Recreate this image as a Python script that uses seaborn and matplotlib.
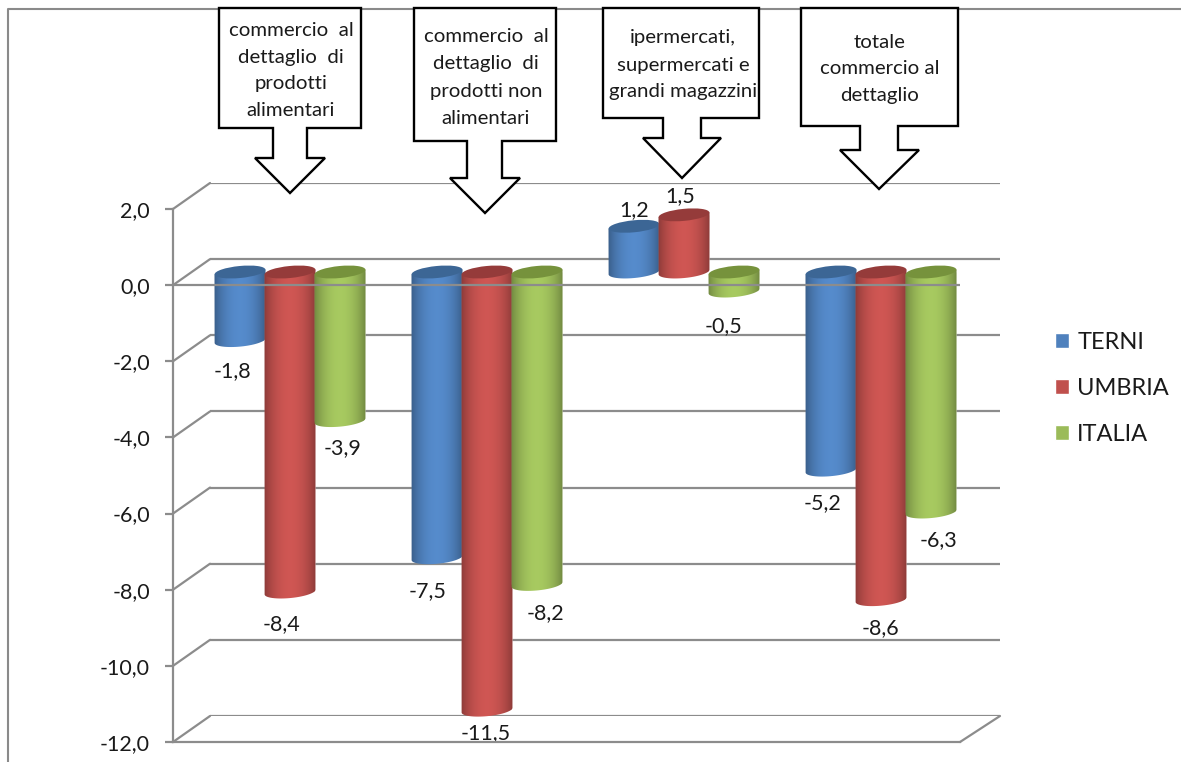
import numpy as np
import pandas as pd
import matplotlib
matplotlib.use("Agg")
import matplotlib.pyplot as plt
import seaborn as sns
from matplotlib.lines import Line2D
from matplotlib.patches import ConnectionPatch, Ellipse, PathPatch
from matplotlib.path import Path
from matplotlib.transforms import IdentityTransform, ScaledTranslation

# Variazioni percentuali per comparto e area
categories = [
    "commercio al dettaglio di prodotti alimentari",
    "commercio al dettaglio di prodotti non alimentari",
    "ipermercati, supermercati e grandi magazzini",
    "totale commercio al dettaglio",
]
areas = ["TERNI", "UMBRIA", "ITALIA"]
terni = [-1.8, -7.5, 1.2, -5.2]
umbria = [-8.4, -11.5, 1.5, -8.6]
italia = [-3.9, -8.2, -0.5, -6.3]
y_ticks = [2, 0, -2, -4, -6, -8, -10, -12]

# Righe di testo dei riquadri a freccia
callout_lines = [
    ["commercio  al", "dettaglio  di", "prodotti", "alimentari"],
    ["commercio  al", "dettaglio  di", "prodotti non", "alimentari"],
    ["ipermercati,", "supermercati e", "grandi magazzini"],
    ["totale", "commercio al", "dettaglio"],
]

W, H = 1181, 762
sns.set_style("white")
plt.rcParams["font.family"] = ["Lato", "DejaVu Sans"]

GRID = "#8c8c8c"
TEXT = "#1a1a1a"
palette = {"TERNI": "#4F81BD", "UMBRIA": "#C0504D", "ITALIA": "#9BBB59"}
cap_colors = {"TERNI": "#3C6695", "UMBRIA": "#953B3A", "ITALIA": "#76923C"}


def px_rect(x0, y0, x1, y1):
    """Axes rectangle from top-left pixel coordinates."""
    return [x0 / W, 1 - y1 / H, (x1 - x0) / W, (y1 - y0) / H]


def fx(x):
    return x / W


def fy(y):
    return 1 - y / H


fig = plt.figure(figsize=(W / 100, H / 100), dpi=100, facecolor="white")

# Chart frame, open on the right and at the bottom
fig.add_artist(Line2D([fx(8), fx(8), fx(W)], [fy(H), fy(8.5), fy(8.5)],
                      color="#8a8a8a", lw=1.5, zorder=0,
                      transform=fig.transFigure))

# Three planes of the pseudo-3D frame: back wall, bar plane, front edge
back = fig.add_axes(px_rect(210, 183, 1000, 716), zorder=1)
mid = fig.add_axes(px_rect(191.5, 195.8, 979.5, 729.2), zorder=2)
front = fig.add_axes(px_rect(173, 209, 960, 742), zorder=3)

for ax in (back, front):
    ax.set_xlim(0, 1)
    ax.set_ylim(-12, 2)
    ax.patch.set_visible(False)

# Back wall: gridlines only
back.set_xticks([])
back.set_yticks(y_ticks)
back.tick_params(left=False, labelleft=False)
back.grid(axis="y", color=GRID, lw=1.6)
for s in back.spines.values():
    s.set_visible(False)

# Oblique edges joining the front edge to the back wall
for v in y_ticks:
    back.add_artist(ConnectionPatch(
        xyA=(0, v), coordsA=front.get_yaxis_transform(),
        xyB=(0, v), coordsB=back.get_yaxis_transform(),
        color=GRID, lw=1.6))
back.add_artist(ConnectionPatch(
    xyA=(1, -12), coordsA=front.get_yaxis_transform(),
    xyB=(1, -12), coordsB=back.get_yaxis_transform(),
    color=GRID, lw=1.6))

# Front edge: value axis, bottom line, zero line over the bars
front.set_xticks([])
front.set_yticks(y_ticks)
front.set_yticklabels([f"{v:.1f}".replace(".", ",") for v in y_ticks],
                       fontsize=15.5, color=TEXT)
front.tick_params(axis="y", length=6, width=1.6, color=GRID, pad=10.5, left=True)
for name, s in front.spines.items():
    s.set_visible(name in ("left", "bottom"))
    s.set_color(GRID)
    s.set_linewidth(1.6)
front.axhline(0, color=GRID, lw=1.6)

# Cylinder bars
df = pd.DataFrame({
    "categoria": categories * 3,
    "area": np.repeat(areas, 4),
    "valore": terni + umbria + italia,
})
sns.barplot(data=df, x="categoria", y="valore", hue="area", hue_order=areas,
            order=categories, palette=palette, saturation=1, width=0.7614,
            gap=0, errorbar=None, ax=mid)
mid.set_xlim(-0.5, 3.5)
mid.set_ylim(-12, 2)
mid.autoscale(False)
mid.set_axis_off()

CAP_W, CAP_H, CAP_ANGLE = 51, 12, 5.5
RISE = CAP_W / 2 * np.sin(np.radians(CAP_ANGLE))
t = np.linspace(0, 1, 160)
shade = 0.66 + 0.42 * np.sin(np.pi * t) ** 0.7

for h, (area, container) in enumerate(zip(areas, mid.containers)):
    base = np.array(matplotlib.colors.to_rgb(palette[area]))
    gradient = np.ones((1, t.size, 4))
    gradient[0, :, :3] = np.clip(base[None, :] * shade[:, None], 0, 1)
    for bar in container:
        x0, x1 = bar.get_x(), bar.get_x() + bar.get_width()
        xc = (x0 + x1) / 2
        top = max(bar.get_y(), bar.get_y() + bar.get_height())
        low = min(bar.get_y(), bar.get_y() + bar.get_height())
        z = 3 + h

        # Outline of the visible side: straight top edge, rounded lower end
        (cx, top_px) = mid.transData.transform((xc, top))
        (_, low_px) = mid.transData.transform((xc, low))
        half = CAP_W / 2
        ang = np.radians(CAP_ANGLE)
        arc = np.linspace(0, -np.pi, 40)
        arc_x = half * np.cos(arc) * np.cos(ang) - CAP_H / 2 * np.sin(arc) * np.sin(ang)
        arc_y = half * np.cos(arc) * np.sin(ang) + CAP_H / 2 * np.sin(arc) * np.cos(ang)
        outline = np.vstack([
            [cx - half, top_px - RISE],
            [cx + half, top_px + RISE],
            np.column_stack([cx + arc_x, low_px + arc_y]),
            [cx - half, top_px - RISE],
        ])
        side = Path(outline)
        bar.set_clip_path(side, IdentityTransform())
        bar.set_zorder(z)
        im = mid.imshow(gradient, extent=(x0 - 0.01, x1 + 0.01, low - 0.4, top + 0.2),
                        aspect="auto", interpolation="bilinear", zorder=z + 0.1)
        im.set_clip_path(side, IdentityTransform())

        mid.add_patch(Ellipse((0, 0), CAP_W, CAP_H, angle=CAP_ANGLE,
                              facecolor=cap_colors[area], edgecolor="none",
                              transform=ScaledTranslation(xc, top, mid.transData),
                              zorder=z + 0.2, clip_on=False))

# Value labels, nudged off the bar ends in pixels
label_nudges = {
    "TERNI": [(-8, -31), (-9, -33), (0, 16), (-9, -33)],
    "UMBRIA": [(-8, -32), (-1, -23), (-4, 19), (-1, -28)],
    "ITALIA": [(3, -28), (8, -29), (-10, -35), (8, -28)],
}
for area, container in zip(areas, mid.containers):
    for bar, nudge in zip(container, label_nudges[area]):
        value = bar.get_y() + bar.get_height()
        mid.annotate(f"{value:.1f}".replace(".", ","),
                     xy=(bar.get_x() + bar.get_width() / 2, value),
                     xytext=nudge, textcoords="offset pixels",
                     ha="center", va="center", fontsize=15.5, color=TEXT,
                     zorder=10, annotation_clip=False)

sns.move_legend(mid, loc="center left", bbox_to_anchor=(fx(1055), fy(388.5)),
                bbox_transform=fig.transFigure, title=None, frameon=False,
                fontsize=17, handlelength=0.6, handleheight=0.6,
                handletextpad=0.34, labelspacing=1.05, borderpad=0, borderaxespad=0)
for txt in mid.get_legend().get_texts():
    txt.set_color(TEXT)


# Callouts pointing down at each group of bars
def callout(left, right, body_bottom, shaft_l, shaft_r, neck, head_l, head_r, tip_x, tip_y, top=8):
    pts = [(left, top), (right, top), (right, body_bottom), (shaft_r, body_bottom),
           (shaft_r, neck), (head_r, neck), (tip_x, tip_y), (head_l, neck),
           (shaft_l, neck), (shaft_l, body_bottom), (left, body_bottom), (left, top)]
    verts = [(fx(x), fy(y)) for x, y in pts]
    codes = [Path.MOVETO] + [Path.LINETO] * (len(verts) - 2) + [Path.CLOSEPOLY]
    fig.add_artist(PathPatch(Path(verts, codes), facecolor="white", edgecolor="black",
                             lw=1.7, joinstyle="miter", transform=fig.transFigure,
                             zorder=6))


callout(219, 361, 128, 273, 307, 158, 255, 325, 290, 193)
callout(414, 556, 141, 467, 502, 178, 450, 520, 485, 213)
callout(603, 759, 118, 663, 701, 138, 643, 721, 682, 178)
callout(801, 958, 126, 860, 898, 150, 840, 919, 879, 189)

callout_x = [291, 486, 683, 880]
callout_y = [[30, 58, 84, 111], [37, 64, 91, 118], [38, 65, 92], [42, 68, 95]]
for lines, xc, ys in zip(callout_lines, callout_x, callout_y):
    for line, yc in zip(lines, ys):
        fig.text(fx(xc), fy(yc), line, ha="center", va="center",
                 fontsize=14.7, color=TEXT, zorder=7)

fig.savefig("out.png", dpi=100, facecolor="white")
